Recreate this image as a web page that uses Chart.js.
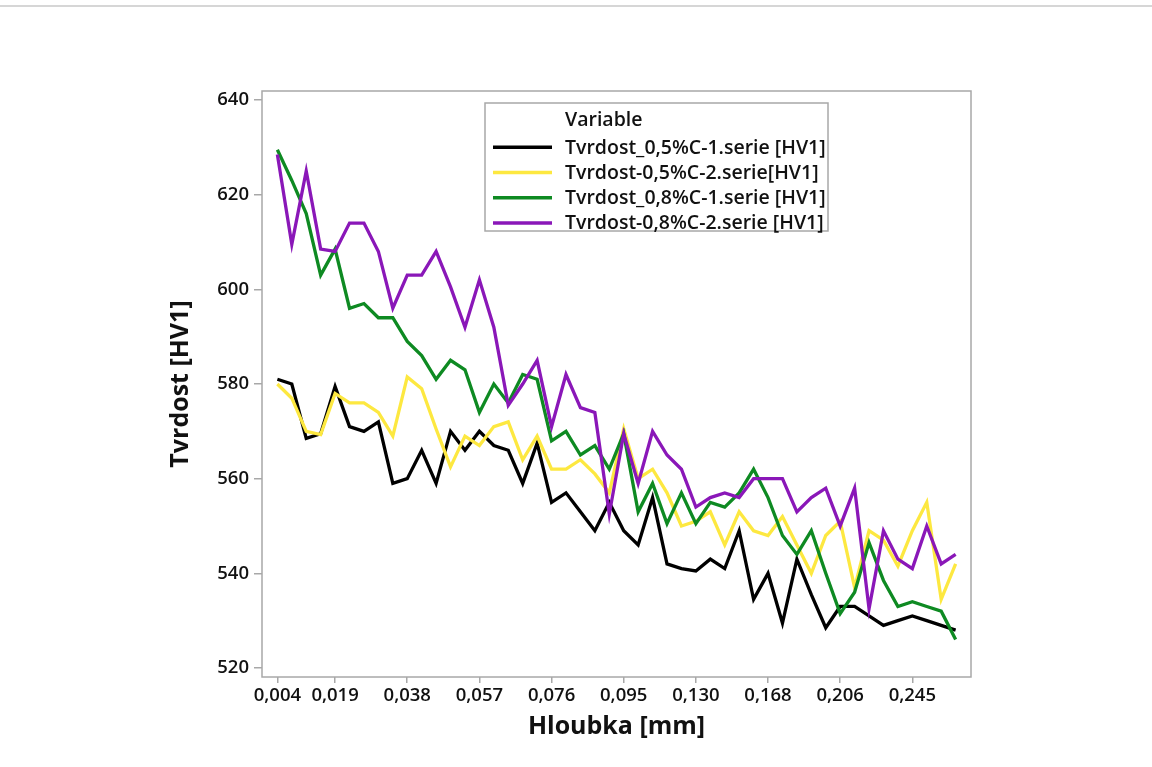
<!DOCTYPE html>
<html>
<head>
<meta charset="utf-8">
<title>Tvrdost v závislosti na hloubce</title>
<script src="https://cdn.jsdelivr.net/npm/chart.js@4.4.1/dist/chart.umd.min.js"></script>
<style>
  html, body { margin: 0; padding: 0; background: #ffffff; }
  #wrap { position: relative; width: 1152px; height: 767px; }
  #topline { position: absolute; left: 0; top: 5px; width: 1152px; height: 2px; background: #d6d6d6; }
</style>
</head>
<body>
<div id="wrap">
  <canvas id="c"></canvas>
  <div id="topline"></div>
</div>
<script>
// Depth axis: labelled positions (0-based measurement index) and their labels
const depthTickIndex = [0, 4, 9, 14, 19, 24, 29, 34, 39, 44];
const depthTicks = ['0,004', '0,019', '0,038', '0,057', '0,076', '0,095', '0,130', '0,168', '0,206', '0,245'];

// Hardness ticks
const hvTicks = [520, 540, 560, 580, 600, 620, 640];

// Series names
const seriesNames = [
  'Tvrdost_0,5%C-1.serie [HV1]',
  'Tvrdost-0,5%C-2.serie[HV1]',
  'Tvrdost_0,8%C-1.serie [HV1]',
  'Tvrdost-0,8%C-2.serie [HV1]'
];

// Hardness HV1, 48 measurements per series
const hv05s1 = [581, 580, 568.5, 569.5, 579.5, 571, 570, 572, 559, 560, 566, 559, 570, 566, 570, 567,
                566, 559, 567.5, 555, 557, 553, 549, 555, 549, 546, 556, 542, 541, 540.5, 543, 541,
                549, 534.5, 540, 529.5, 543, 535.5, 528.5, 533, 533, 531, 529, 530, 531, 530, 529, 528];
const hv05s2 = [580, 577, 570, 569.3, 578, 576, 576, 574, 569, 581.5, 579, 570.5, 562.5, 569, 567, 571,
                572, 564, 569, 562, 562, 564, 561, 557, 570.5, 560, 562, 557, 550, 551, 553, 546,
                553, 549, 548, 552, 546, 540, 548, 551, 537, 549, 547, 541.5, 549, 555, 534.5, 542];
const hv08s1 = [629.5, 623, 616, 603, 608.5, 596, 597, 594, 594, 589, 586, 581, 585, 583, 574, 580,
                576, 582, 581, 568, 570, 565, 567, 562, 569.5, 553, 559, 550.5, 557, 550.5, 555, 554,
                557, 562, 556, 548, 544, 549, 540, 531.5, 536, 546.5, 538.5, 533, 534, 533, 532, 526];
const hv08s2 = [628.5, 609.5, 625, 608.5, 608, 614, 614, 608, 596, 603, 603, 608, 600.5, 592, 602, 592,
                575.5, 580, 585, 571, 582, 575, 574, 552.5, 569.5, 559, 570, 565, 562, 554, 556, 557,
                556, 560, 560, 560, 553, 556, 558, 550, 558, 532.5, 549, 543, 541, 550, 542, 544];

const seriesValues = [hv05s1, hv05s2, hv08s1, hv08s2];
const seriesColors = ['#000000', '#fde840', '#0e8a22', '#8a17b8'];

const FONT = '"Open Sans", "Noto Sans", sans-serif';
const FRAME = '#a8a8a8';

// Plot frame, axis titles and the "Variable" legend box
const decorations = {
  id: 'decorations',
  afterDraw(chart) {
    const ctx = chart.ctx;
    const a = chart.chartArea;
    ctx.save();
    ctx.strokeStyle = FRAME;
    ctx.lineWidth = 1.5;
    ctx.strokeRect(a.left, a.top, a.right - a.left, a.bottom - a.top);

    // axis titles
    ctx.fillStyle = '#111111';
    ctx.font = '700 25px ' + FONT;
    ctx.textAlign = 'center';
    ctx.textBaseline = 'middle';
    ctx.fillText('Hloubka [mm]', (a.left + a.right) / 2, 727);
    ctx.save();
    ctx.translate(181, (a.top + a.bottom) / 2);
    ctx.rotate(-Math.PI / 2);
    ctx.fillText('Tvrdost [HV1]', 0, 0);
    ctx.restore();

    // legend
    const bx = 485, by = 103, bw = 343, bh = 128;
    ctx.fillStyle = '#ffffff';
    ctx.fillRect(bx, by, bw, bh);
    ctx.strokeStyle = FRAME;
    ctx.lineWidth = 1.5;
    ctx.strokeRect(bx, by, bw, bh);
    ctx.fillStyle = '#111111';
    ctx.font = '600 19.5px ' + FONT;
    ctx.textAlign = 'left';
    ctx.textBaseline = 'alphabetic';
    ctx.fillText('Variable', 565, 126);
    chart.data.datasets.forEach((ds, i) => {
      const y = 147.3 + i * 25.2;
      ctx.strokeStyle = ds.borderColor;
      ctx.lineWidth = 3.5;
      ctx.beginPath();
      ctx.moveTo(493, y);
      ctx.lineTo(552, y);
      ctx.stroke();
      ctx.fillStyle = '#111111';
      ctx.fillText(ds.label, 565, y + 6.5);
    });
    ctx.restore();
  }
};

new Chart(document.getElementById('c'), {
  type: 'line',
  data: {
    datasets: seriesValues.map((vals, i) => ({
      label: seriesNames[i],
      data: vals.map((v, k) => ({ x: k, y: v })),
      borderColor: seriesColors[i],
      backgroundColor: seriesColors[i],
      borderWidth: 3.3,
      pointRadius: 0,
      tension: 0,
      fill: false,
      order: 4 - i
    }))
  },
  options: {
    responsive: true,
    maintainAspectRatio: false,
    animation: false,
    layout: { padding: { left: 150, top: 91, right: 181, bottom: 0 } },
    plugins: { legend: { display: false }, tooltip: { enabled: false } },
    scales: {
      x: {
        type: 'linear',
        min: -1.065,
        max: 48.065,
        afterFit(s) { s.height = 90; },
        afterBuildTicks(s) { s.ticks = depthTickIndex.map(v => ({ value: v })); },
        grid: { drawOnChartArea: false, drawTicks: true, tickLength: 6, color: FRAME, lineWidth: 1.5 },
        border: { display: false },
        ticks: {
          autoSkip: false, maxRotation: 0, minRotation: 0, padding: 2, color: '#111111',
          font: { family: FONT, weight: '600', size: 18.5 },
          callback: (value, index) => depthTicks[index]
        }
      },
      y: {
        min: 518.1,
        max: 641.9,
        afterFit(s) { s.width = 112; },
        afterBuildTicks(s) { s.ticks = hvTicks.map(v => ({ value: v })); },
        grid: { drawOnChartArea: false, drawTicks: true, tickLength: 8, color: FRAME, lineWidth: 1.5 },
        border: { display: false },
        ticks: {
          padding: 5, color: '#111111',
          font: { family: FONT, weight: '600', size: 18.5 }
        }
      }
    }
  },
  plugins: [decorations]
});
</script>
</body>
</html>
